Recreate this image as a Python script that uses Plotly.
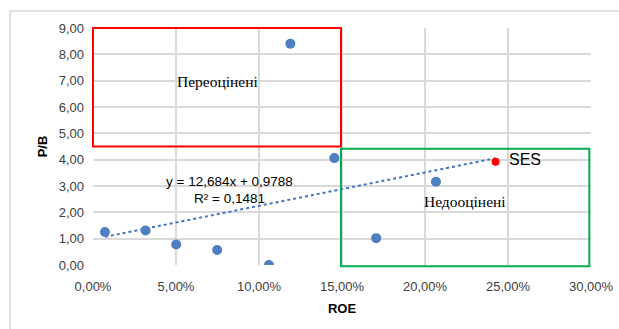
import plotly.graph_objects as go

roe = [0.0072, 0.0317, 0.0501, 0.0748, 0.1060, 0.1189, 0.1454, 0.1706, 0.2066]
pb = [1.25, 1.31, 0.78, 0.57, 0.00, 8.40, 4.06, 1.02, 3.16]
ses_roe = [0.2425]
ses_pb = [3.92]
ses_label = ["SES"]
slope, intercept = 12.684, 0.9788
trend_x = [min(roe), ses_roe[0]]
trend_y = [slope * v + intercept for v in trend_x]

W, H = 619, 329
L, R, T, B = 93, 28, 28, 64
XMAX, YMAX = 0.30, 9.0
pw, ph = W - L - R, H - T - B

def px(v):
    return v / XMAX

def py(v):
    return v / YMAX

fig = go.Figure()
fig.add_trace(go.Scatter(x=trend_x, y=trend_y, mode="lines",
                         line=dict(color="#4472C4", width=2, dash="dot"),
                         hoverinfo="skip", showlegend=False))
fig.add_trace(go.Scatter(x=roe, y=pb, mode="markers",
                         marker=dict(color="#4F7FC0", size=10), showlegend=False))
fig.add_trace(go.Scatter(x=ses_roe, y=ses_pb, mode="markers",
                         marker=dict(color="#FF0000", size=8),
                         showlegend=False))

shapes = [
    dict(type="rect", xref="paper", yref="paper",
         x0=(10 - L) / pw, x1=(W + 20 - L) / pw,
         y0=-(H + 20 - T - ph) / ph, y1=(ph + T - 11) / ph,
         line=dict(color="#D9D9D9", width=1.5), layer="below"),
    dict(type="rect", xref="paper", yref="paper",
         x0=px(0.0), x1=px(0.1494), y0=py(4.5), y1=py(9.0),
         line=dict(color="#FF0000", width=2)),
    dict(type="rect", xref="paper", yref="paper",
         x0=px(0.1494), x1=px(0.299), y0=py(-0.05), y1=py(4.41),
         line=dict(color="#00B050", width=2)),
]

annotations = [
    dict(x=ses_roe[0], y=ses_pb[0], xref="x", yref="y", text=ses_label[0], showarrow=False,
         xanchor="left", xshift=11, yshift=2,
         font=dict(family="Liberation Sans", size=16, color="#000000")),
    dict(x=0.075, y=6.95, xref="x", yref="y", text="Переоцінені", showarrow=False,
         font=dict(family="Liberation Serif", size=15.5, color="#000000")),
    dict(x=0.224, y=2.40, xref="x", yref="y", text="Недооцінені", showarrow=False,
         font=dict(family="Liberation Serif", size=15.5, color="#000000")),
    dict(x=0.0825, y=3.17, xref="x", yref="y", text="y = 12,684x + 0,9788", showarrow=False,
         font=dict(family="Liberation Sans", size=13.5, color="#000000")),
    dict(x=0.0825, y=2.52, xref="x", yref="y", text="R² = 0,1481", showarrow=False,
         font=dict(family="Liberation Sans", size=13.5, color="#000000")),
]

fig.update_layout(
    width=W, height=H,
    margin=dict(l=L, r=R, t=T, b=B, autoexpand=False),
    paper_bgcolor="white", plot_bgcolor="white",
    separators=",.",
    font=dict(family="Liberation Sans", size=13, color="#404040"),
    shapes=shapes, annotations=annotations,
    xaxis=dict(range=[0, XMAX], dtick=0.05, tickformat=".2%",
               showgrid=True, gridcolor="#D9D9D9", gridwidth=1.5,
               zeroline=False, showline=False, ticks="", ticklabelstandoff=12,
               automargin=False,
               title=dict(text="<b>ROE</b>", font=dict(size=13, color="#000000"), standoff=10)),
    yaxis=dict(range=[0, YMAX], dtick=1, tickformat=".2f",
               showgrid=True, gridcolor="#D9D9D9", gridwidth=1.5,
               zeroline=False, showline=False, ticks="", ticklabelstandoff=8,
               automargin=False,
               title=dict(text="<b>P/B</b>", font=dict(size=13, color="#000000"), standoff=8)),
)
fig.write_html("out.html")
